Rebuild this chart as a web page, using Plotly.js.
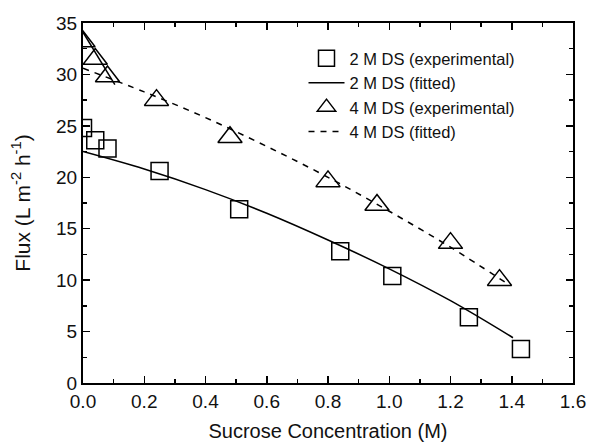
<!DOCTYPE html>
<html>
<head>
<meta charset="utf-8">
<script src="https://cdn.plot.ly/plotly-3.0.1.min.js"></script>
<style>html,body{margin:0;padding:0;background:#fff;}#chart{width:589px;height:445px;}</style>
</head>
<body>
<div id="chart"></div>
<script>
// 2 M DS experimental
const exp2X = [0.0, 0.04, 0.08, 0.25, 0.51, 0.84, 1.01, 1.26, 1.43];
const exp2Y = [24.8, 23.6, 22.8, 20.6, 16.9, 12.8, 10.4, 6.4, 3.3];
// 2 M DS fitted
const fit2X = [0.0, 0.2, 0.4, 0.6, 0.8, 1.0, 1.2, 1.404];
const fit2Y = [22.5, 20.8, 18.8, 16.5, 13.9, 11.1, 8.0, 4.4];
// 4 M DS experimental
const exp4X = [0.0, 0.04, 0.08, 0.24, 0.48, 0.80, 0.96, 1.20, 1.36];
const exp4Y = [33.2, 31.5, 29.8, 27.5, 23.9, 19.6, 17.3, 13.6, 10.0];
// 4 M DS fitted
const fit4X = [0.0, 0.2, 0.4, 0.6, 0.8, 1.0, 1.2, 1.394];
const fit4Y = [30.6, 28.3, 25.8, 23.0, 20.0, 16.7, 13.2, 9.5];
// steep initial segment near x = 0
const segX = [0.0, 0.104];
const segY = [34.1, 29.0];

const names = ['2 M DS (experimental)', '2 M DS (fitted)', '4 M DS (experimental)', '4 M DS (fitted)'];

const FONT = 'Liberation Sans, Arial, sans-serif';

const traces = [
  {x: exp2X, y: exp2Y, mode: 'markers', name: names[0],
   marker: {symbol: 'square-open', size: 17, color: '#000', line: {width: 1.5, color: '#222'}}},
  {x: fit2X, y: fit2Y, mode: 'lines', name: names[1], line: {color: '#000', width: 1.5, shape: 'spline'}},
  {x: exp4X, y: exp4Y, mode: 'markers', name: names[2],
   marker: {symbol: 'triangle-up-open', size: 21, color: '#000', line: {width: 1.5, color: '#222'}}},
  {x: fit4X, y: fit4Y, mode: 'lines', name: names[3], line: {color: '#000', width: 1.5, dash: '6px,6px', shape: 'spline'}},
  {x: segX, y: segY, mode: 'lines', showlegend: false, line: {color: '#000', width: 1.5}}
];

const axisCommon = {
  showgrid: false, zeroline: false, showline: true, linecolor: '#000', linewidth: 2,
  mirror: 'allticks', ticks: 'inside', ticklen: 7, tickwidth: 1.5, tickcolor: '#000',
  tickfont: {family: FONT, size: 19, color: '#111'}
};

const layout = {
  width: 589, height: 445,
  margin: {l: 83, r: 16, t: 23, b: 62},
  paper_bgcolor: '#fff', plot_bgcolor: '#fff',
  font: {family: FONT, color: '#111'},
  xaxis: Object.assign({}, axisCommon, {
    range: [0, 1.6], dtick: 0.2, tickformat: '.1f',
    minor: {dtick: 0.1, ticks: 'inside', ticklen: 4, tickwidth: 1.5, tickcolor: '#000'},
    title: {text: 'Sucrose Concentration (M)', font: {family: FONT, size: 20, color: '#111'}, standoff: 13}
  }),
  yaxis: Object.assign({}, axisCommon, {
    range: [0, 35], dtick: 5,
    minor: {dtick: 2.5, ticks: 'inside', ticklen: 4, tickwidth: 1.5, tickcolor: '#000'},
    title: {text: 'Flux (L m<sup>-2</sup> h<sup>-1</sup>)', font: {family: FONT, size: 21, color: '#111'}, standoff: 20}
  }),
  showlegend: true,
  legend: {
    x: 0.45, xanchor: 'left', y: 0.95, yanchor: 'top',
    bgcolor: 'rgba(0,0,0,0)', borderwidth: 0,
    font: {family: FONT, size: 16.5, color: '#111'},
    itemwidth: 36, tracegroupgap: 0
  }
};

Plotly.newPlot('chart', traces, layout, {displayModeBar: false, staticPlot: true});
</script>
</body>
</html>
